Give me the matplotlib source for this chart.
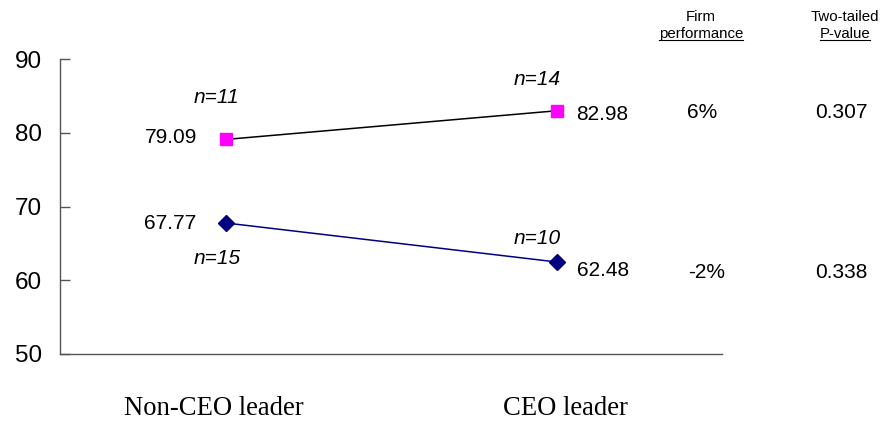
import matplotlib
matplotlib.use("Agg")
import matplotlib.pyplot as plt
from matplotlib.transforms import offset_copy, ScaledTranslation

categories = ["Non-CEO leader", "CEO leader"]
top_values = [79.09, 82.98]      # magenta series
bottom_values = [67.77, 62.48]   # navy series
top_n = ["n=11", "n=14"]
bottom_n = ["n=15", "n=10"]
perf_change = ["6%", "-2%"]
p_values = ["0.307", "0.338"]
y_ticks = [50, 60, 70, 80, 90]

W, H = 883, 421
fig = plt.figure(figsize=(W / 100, H / 100), dpi=100)
ax = fig.add_axes([60 / W, 1 - 354 / H, (722 - 60) / W, (354 - 59) / H])

x = [0, 1]
ax.plot(x, top_values, color="black", lw=1.1, marker="s", ms=8.6,
        mfc="#FF00FF", mec="#FF00FF", zorder=3)
ax.plot(x, bottom_values, color="#000080", lw=1.1, marker="D", ms=8.5,
        mfc="#000080", mec="#000080", zorder=3)

ax.set_xlim(-0.5, 1.5)
ax.set_ylim(50, 90)
ax.set_yticks(y_ticks)
ax.set_yticklabels([str(v) for v in y_ticks], fontsize=17.5, family="Liberation Sans")
ax.tick_params(axis="y", direction="in", length=7, width=1, color="#555555", pad=13)
ax.set_xticks(x)
ax.set_xticklabels(categories, fontsize=19.2, family="Liberation Serif")
ax.tick_params(axis="x", length=0, pad=30.5)
# nudge the category labels sideways
for lbl, dx in zip(ax.get_xticklabels(), (-12, 9)):
    lbl.set_transform(lbl.get_transform() + ScaledTranslation(dx / 100, 0, fig.dpi_scale_trans))
for side in ("top", "right"):
    ax.spines[side].set_visible(False)
for side in ("left", "bottom"):
    ax.spines[side].set_color("#555555")
    ax.spines[side].set_linewidth(1)

sans = "Liberation Sans"
lab = dict(fontsize=15, family=sans, va="center")


def px(dx, dy):
    return offset_copy(ax.transData, fig=fig, x=dx, y=-dy, units="dots")


# value labels
ax.text(0, top_values[0], f"{top_values[0]:.2f}", ha="right", transform=px(-28, -2), **lab)
ax.text(0, bottom_values[0], f"{bottom_values[0]:.2f}", ha="right", transform=px(-29, 1), **lab)
ax.text(1, top_values[1], f"{top_values[1]:.2f}", ha="left", transform=px(20, 4), **lab)
ax.text(1, bottom_values[1], f"{bottom_values[1]:.2f}", ha="left", transform=px(20, 9), **lab)

# sample sizes
nlab = dict(fontsize=15, family=sans, style="italic", va="center", ha="center")
ax.text(0, top_values[0], top_n[0], transform=px(-9, -42), **nlab)
ax.text(1, top_values[1], top_n[1], transform=px(-19, -31), **nlab)
ax.text(0, bottom_values[0], bottom_n[0], transform=px(-8, 36), **nlab)
ax.text(1, bottom_values[1], bottom_n[1], transform=px(-19, -23), **nlab)

# side table: performance change and p-values
fig.text(702 / W, 1 - 113 / H, perf_change[0], ha="center", **lab)
fig.text(707 / W, 1 - 272 / H, perf_change[1], ha="center", **lab)
fig.text(868 / W, 1 - 113 / H, p_values[0], ha="right", **lab)
fig.text(868 / W, 1 - 272 / H, p_values[1], ha="right", **lab)

head = dict(fontsize=10.8, family=sans, ha="center", va="center")
fig.text(701 / W, 1 - 17 / H, "Firm", **head)
t1 = fig.text(701 / W, 1 - 34 / H, "performance", **head)
fig.text(845 / W, 1 - 17 / H, "Two-tailed", **head)
t2 = fig.text(845 / W, 1 - 34 / H, "P-value", **head)

# underline the second header row
fig.canvas.draw()
renderer = fig.canvas.get_renderer()
for t in (t1, t2):
    bb = t.get_window_extent(renderer)
    y0 = bb.y0 + 1
    fig.add_artist(plt.Line2D([bb.x0 / W, bb.x1 / W], [y0 / H, y0 / H],
                              color="black", lw=0.8, transform=fig.transFigure))

fig.savefig("out.png", dpi=100)
